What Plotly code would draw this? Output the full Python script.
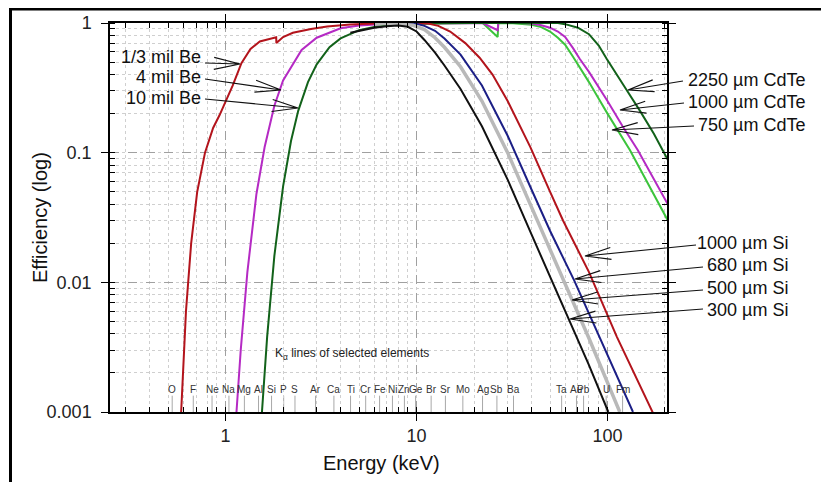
import math
import plotly.graph_objects as go

# ---------------- data ----------------
red_E = [0.585, 0.62, 0.66, 0.71, 0.78, 0.86, 0.93, 1.0, 1.09, 1.21, 1.35, 1.51, 1.77, 1.84, 1.845,
         2.0, 2.25, 2.8, 3.4, 4.5, 6.0, 9.0, 11.5, 13, 15, 18, 21.4, 25, 30, 39.5, 50, 58.5, 80, 112, 175]
red_eff = [0.001, 0.006, 0.02, 0.05, 0.1, 0.155, 0.195, 0.246, 0.33, 0.49, 0.63, 0.72, 0.77, 0.775, 0.70,
           0.78, 0.84, 0.9, 0.94, 0.975, 0.99, 1.0, 0.99, 0.95, 0.86, 0.7, 0.54, 0.4, 0.25, 0.11, 0.05, 0.03, 0.012, 0.0038, 0.00095]

mag_E = [1.14, 1.2, 1.3, 1.45, 1.6, 1.8, 2.0, 2.5, 3.0, 4.0, 5.0, 7.0, 10, 15, 22.2, 26.6, 26.8,
         35, 40, 45, 50, 55, 60, 66, 71.5, 80, 90, 100, 120, 144, 207]
mag_eff = [0.001, 0.003, 0.012, 0.048, 0.11, 0.23, 0.36, 0.62, 0.77, 0.91, 0.955, 0.985, 0.996, 1.0, 1.0, 0.88, 1.0,
           1.0, 0.99, 0.96, 0.92, 0.86, 0.78, 0.64, 0.53, 0.42, 0.32, 0.25, 0.16, 0.105, 0.04]

lgreen_E = [15, 22.2, 26.6, 26.8, 32, 35, 40, 45, 50, 55, 60, 66, 72, 80, 90, 100, 131, 207]
lgreen_eff = [1.0, 1.0, 0.78, 1.0, 0.995, 0.99, 0.97, 0.93, 0.86, 0.77, 0.68, 0.55, 0.45, 0.35, 0.26, 0.2, 0.105, 0.03]

dgreen_E = [1.55, 1.65, 1.8, 2.0, 2.2, 2.4, 2.7, 3.0, 3.5, 4.0, 5.0, 6.0, 8.0, 10, 20, 40, 55,
            60, 70, 80, 90, 99, 110, 125, 148, 175, 207]
dgreen_eff = [0.001, 0.0038, 0.016, 0.055, 0.123, 0.21, 0.35, 0.48, 0.65, 0.76, 0.88, 0.93, 0.974, 0.988, 1.0, 1.0, 1.0,
              0.98, 0.92, 0.82, 0.67, 0.53, 0.42, 0.31, 0.21, 0.14, 0.088]

navy_E = [6, 9, 10, 11, 12.5, 14, 17, 22, 30, 40, 50, 67, 91, 136]
navy_eff = [0.99, 0.99, 0.985, 0.95, 0.87, 0.76, 0.57, 0.33, 0.135, 0.052, 0.025, 0.0103, 0.0038, 0.001]

gray_E = [6, 8, 9.6, 11, 12.5, 14, 17, 22, 30, 40, 50, 65, 80, 116]
gray_eff = [0.99, 0.985, 0.96, 0.89, 0.77, 0.65, 0.46, 0.25, 0.1, 0.038, 0.018, 0.0077, 0.0037, 0.001]

black_E = [4.5, 5, 6, 7, 8, 9, 10, 11, 12.5, 14, 17, 22, 30, 40, 50, 63.5, 80, 101]
black_eff = [0.84, 0.87, 0.92, 0.945, 0.955, 0.935, 0.86, 0.74, 0.59, 0.47, 0.31, 0.16, 0.062, 0.0234, 0.011, 0.005, 0.0023, 0.001]

element_names = ["O", "F", "Ne", "Na", "Mg", "Al", "Si", "P", "S", "Ar", "Ca", "Ti", "Cr", "Fe", "Ni", "Zn",
                 "Ge", "Br", "Sr", "Mo", "Ag", "Sb", "Ba", "Ta", "Au", "Pb", "U", "Fm"]
element_kalpha = [0.525, 0.677, 0.849, 1.041, 1.254, 1.487, 1.740, 2.014, 2.308, 2.958, 3.692, 4.511, 5.415, 6.404,
                  7.478, 8.639, 9.886, 11.924, 14.165, 17.479, 22.163, 26.359, 32.194, 57.53, 68.80, 74.97, 98.44, 120.0]

x_ticks = [1, 10, 100]
y_ticks = [0.001, 0.01, 0.1, 1]
y_ticklabels = ["0.001", "0.01", "0.1", "1"]

# ---------------- layout geometry ----------------
# the page body adds an 8 px offset; the figure is sized so that it fills the window
OFF = 8
W, H = 829 - OFF, 482 - OFF
PL, PR, PT, PB = 110, 667, 23, 412          # plot area in window pixels
ML, MR, MT, MB = PL - OFF, W - (PR - OFF), PT - OFF, H - (PB - OFF)
PW = PR - PL
PH = PB - PT
FONT = "Liberation Sans, Arial, sans-serif"


def pxp(x):
    return (x - PL) / PW


def pyp(y):
    return (PB - y) / PH


fig = go.Figure()

series = [
    (lgreen_E, lgreen_eff, "#3cc43c", 2, "750 µm CdTe"),
    (mag_E, mag_eff, "#b52ac4", 2, "4 mil Be / 1000 µm CdTe"),
    (dgreen_E, dgreen_eff, "#12621a", 2, "10 mil Be / 2250 µm CdTe"),
    (red_E, red_eff, "#b3141c", 2, "1/3 mil Be / 1000 µm Si"),
    (navy_E, navy_eff, "#1c1f86", 2, "680 µm Si"),
    (gray_E, gray_eff, "#b9b9b9", 3.5, "500 µm Si"),
    (black_E, black_eff, "#111111", 2, "300 µm Si"),
]
for xs, ys, col, w, name in series:
    fig.add_trace(go.Scatter(x=xs, y=ys, mode="lines", name=name,
                             line=dict(color=col, width=w), showlegend=False))

shapes = []
annotations = []

# element K-alpha markers
for name, e in zip(element_names, element_kalpha):
    shapes.append(dict(type="line", xref="x", yref="paper", x0=e, x1=e, y0=0, y1=0.042,
                       line=dict(color="#a8a8a8", width=1), layer="below"))
    annotations.append(dict(x=math.log10(e), y=0.058, xref="x", yref="paper", text=name,
                            showarrow=False, font=dict(size=10, color="#333", family=FONT),
                            xanchor="center", yanchor="middle"))

annotations.append(dict(x=pxp(273), y=pyp(354), xref="paper", yref="paper",
                        text="K<sub>α</sub> lines of selected elements", showarrow=False,
                        font=dict(size=12, color="#222", family=FONT), xanchor="left", yanchor="middle"))

# axis titles
annotations.append(dict(x=pxp(381), y=pyp(463), xref="paper", yref="paper", text="Energy (keV)",
                        showarrow=False, xanchor="center", yanchor="middle",
                        font=dict(size=20, color="#111", family=FONT)))
annotations.append(dict(x=pxp(40), y=pyp(218), xref="paper", yref="paper", text="Efficiency (log)",
                        showarrow=False, xanchor="center", yanchor="middle", textangle=-90,
                        font=dict(size=20, color="#111", family=FONT)))

# labels with arrows: (text, text x right edge px, text y px, tail px, tip px)
labels = [
    ("1/3 mil Be", 203, 57, (205, 63), (240, 64)),
    ("4 mil Be", 203, 77, (205, 79), (281, 90)),
    ("10 mil Be", 203, 98, (205, 99), (298, 108)),
    ("2250 µm CdTe", 807, 80, (683, 81), (628, 90)),
    ("1000 µm CdTe", 807, 102, (684, 103), (620, 110)),
    ("750 µm CdTe", 807, 125, (694, 126), (612, 130)),
    ("1000 µm Si", 790, 243, (696, 245), (585, 256)),
    ("680 µm Si", 790, 265, (703, 267), (575, 279)),
    ("500 µm Si", 790, 288, (703, 290), (572, 300)),
    ("300 µm Si", 790, 310, (703, 309), (570, 319)),
]
for text, xr, yc, tail, tip in labels:
    annotations.append(dict(x=pxp(xr), y=pyp(yc), xref="paper", yref="paper", text=text,
                            showarrow=False, xanchor="right", yanchor="middle",
                            font=dict(size=18, color="#111", family=FONT)))
    dx = tail[0] - tip[0]
    dy = -(tail[1] - tip[1])
    ln = math.hypot(dx, dy)
    ux, uy = dx / ln, dy / ln
    nx, ny = -uy, ux
    Lb, Wb = 26, 6
    b1 = (Lb * ux + Wb * nx, Lb * uy + Wb * ny)
    b2 = (Lb * ux - Wb * nx, Lb * uy - Wb * ny)
    path = (f"M0,0 L{dx:.1f},{dy:.1f} M{b1[0]:.1f},{b1[1]:.1f} L0,0 L{b2[0]:.1f},{b2[1]:.1f}")
    shapes.append(dict(type="path", xref="paper", yref="paper", xsizemode="pixel", ysizemode="pixel",
                       xanchor=pxp(tip[0]), yanchor=pyp(tip[1]), path=path,
                       line=dict(color="#111", width=1.2)))

# outer frame (left and top border of the picture)
shapes.append(dict(type="line", xref="paper", yref="paper", x0=pxp(10.5), x1=pxp(10.5), y0=pyp(8), y1=pyp(500),
                   line=dict(color="black", width=3)))
shapes.append(dict(type="line", xref="paper", yref="paper", x0=pxp(9), x1=pxp(840), y0=pyp(9), y1=pyp(9),
                   line=dict(color="black", width=3)))

axis_common = dict(
    showline=True, linecolor="black", linewidth=1.5, mirror="allticks",
    ticks="outside", ticklen=7, tickcolor="black", tickwidth=1.2,
    showgrid=True, gridcolor="#a0a0a0", griddash="dash", gridwidth=1,
    zeroline=False, automargin=False,
    tickfont=dict(size=18, color="#222", family=FONT),
)

fig.update_layout(
    template="none",
    width=W, height=H,
    margin=dict(l=ML, r=MR, t=MT, b=MB, autoexpand=False),
    paper_bgcolor="white", plot_bgcolor="white",
    showlegend=False,
    shapes=shapes, annotations=annotations,
    xaxis=dict(type="log", range=[math.log10(0.248), math.log10(205)],
               tickvals=x_ticks, ticktext=[str(v) for v in x_ticks],
               minor=dict(dtick="D1", ticks="inside", ticklen=5, tickcolor="black", showgrid=True,
                          gridcolor="#cfcfcf", griddash="dot", gridwidth=1),
               **axis_common),
    yaxis=dict(type="log", range=[-3, 0], tickvals=y_ticks, ticktext=y_ticklabels,
               ticklabelstandoff=6,
               minor=dict(dtick="D1", ticks="inside", ticklen=5, tickcolor="black", showgrid=True,
                          gridcolor="#cfcfcf", griddash="dot", gridwidth=1),
               **axis_common),
)

fig.write_html("out.html")
